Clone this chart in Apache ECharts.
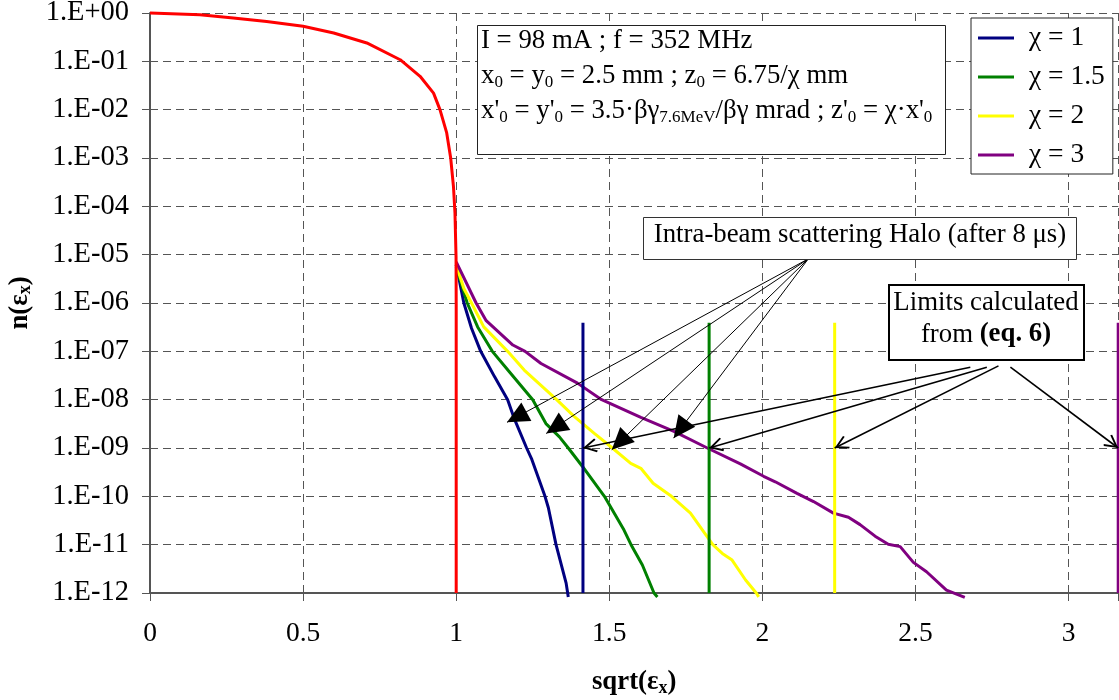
<!DOCTYPE html>
<html>
<head>
<meta charset="utf-8">
<script src="https://cdn.jsdelivr.net/npm/echarts@6/dist/echarts.min.js"></script>
<style>
  html, body { margin: 0; padding: 0; background: #fff; }
  #chart { width: 1119px; height: 700px; }
</style>
</head>
<body>
<div id="chart"></div>
<script>
// ---- tick labels -------------------------------------------------------
const xTickLabels = ['0', '0.5', '1', '1.5', '2', '2.5', '3'];
const yTickLabels = ['1.E+00', '1.E-01', '1.E-02', '1.E-03', '1.E-04', '1.E-05', '1.E-06',
                     '1.E-07', '1.E-08', '1.E-09', '1.E-10', '1.E-11', '1.E-12'];

// ---- series names ------------------------------------------------------
const chiNames = ['χ = 1', 'χ = 1.5', 'χ = 2', 'χ = 3'];

// ---- initial distribution n(eps_x) vs sqrt(eps_x) ----------------------
const initialCore = [
  [0, 1], [0.163, 0.92], [0.272, 0.79], [0.381, 0.67], [0.5, 0.53], [0.6, 0.386],
  [0.708, 0.24], [0.817, 0.108], [0.882, 0.049], [0.926, 0.022], [0.947, 0.01],
  [0.969, 0.0033], [0.982, 0.001], [0.991, 2.6e-4], [0.996, 7.2e-5], [0.9995, 9e-6],
  [1, 1e-6], [1, 1e-12]
];

// ---- intra-beam scattering halo after 8 us ------------------------------
const haloChi1 = [
  [1, 6.2e-6], [1.025, 1e-6], [1.05, 3e-7], [1.08, 1e-7], [1.125, 3e-8], [1.168, 1e-8],
  [1.19, 4e-9], [1.23, 1e-9], [1.247, 5.8e-10], [1.29, 1e-10], [1.301, 5.8e-11],
  [1.326, 1e-11], [1.359, 1.6e-12], [1.366, 8.3e-13]
];
const haloChi15 = [
  [1, 5.6e-6], [1.036, 1e-6], [1.07, 3.2e-7], [1.118, 1e-7], [1.17, 4e-8], [1.25, 1e-8],
  [1.293, 3.2e-9], [1.337, 1.7e-9], [1.366, 1e-9], [1.413, 4.1e-10], [1.484, 1e-10],
  [1.548, 2e-11], [1.571, 1e-11], [1.608, 3.8e-12], [1.646, 1e-12], [1.657, 8.3e-13]
];
const haloChi2 = [
  [1, 6.2e-6], [1.025, 2e-6], [1.05, 1e-6], [1.09, 3.2e-7], [1.168, 1e-7], [1.222, 4.1e-8],
  [1.328, 1e-8], [1.385, 4.5e-9], [1.451, 2e-9], [1.51, 1e-9], [1.57, 4.8e-10],
  [1.603, 3.8e-10], [1.643, 1.86e-10], [1.703, 1e-10], [1.765, 4.5e-11], [1.838, 1e-11],
  [1.869, 6.6e-12], [1.901, 4.8e-12], [1.945, 1.86e-12], [1.98, 1e-12], [1.988, 8.3e-13]
];
const haloChi3 = [
  [1, 7.1e-6], [1.065, 1e-6], [1.098, 4.3e-7], [1.185, 1.35e-7], [1.225, 1e-7],
  [1.277, 5.6e-8], [1.396, 2.2e-8], [1.475, 1e-8], [1.603, 4.3e-9], [1.711, 2.2e-9],
  [1.82, 1e-9], [1.928, 4.7e-10], [2.004, 2.6e-10], [2.042, 2e-10], [2.113, 1.15e-10],
  [2.167, 7.8e-11], [2.232, 4.5e-11], [2.281, 3.7e-11], [2.319, 2.6e-11], [2.368, 1.5e-11],
  [2.411, 1.02e-11], [2.45, 9.1e-12], [2.493, 4.3e-12], [2.536, 2.75e-12],
  [2.601, 1.15e-12], [2.661, 8.1e-13]
];

// ---- limits calculated from eq. 6 (vertical markers) -------------------
const limitX = [1.414, 1.826, 2.236, 3.162];
const limitBottom = 1e-12;
const limitTop = 3.9e-7;

// ---- styling -----------------------------------------------------------
const FONT = '"Liberation Serif", "Times New Roman", Times, serif';
const FS = 26.8;
const chiColors = ['#000080', '#008000', '#FFFF00', '#800080'];
const coreColor = '#FF0000';
const haloSets = [haloChi1, haloChi15, haloChi2, haloChi3];

// arrows: thin ones point at the halo curves, thicker ones at the limit markers
const haloArrowFrom = [2.15, 8.2e-6];
const haloArrowTips = [[1.166, 3.4e-9], [1.294, 2.0e-9], [1.508, 9.2e-10], [1.71, 1.6e-9]];
const limitArrowFrom = [[2.679, 4.7e-8], [2.733, 4.7e-8], [2.771, 5.0e-8], [2.81, 4.7e-8]];
const limitArrowLevel = 1e-9;
const openHead = 'path://M6,0L12,11L10.7,12L6,3.3L1.3,12L0,11Z';

const sub = { fontFamily: FONT, fontSize: 17, lineHeight: 12, verticalAlign: 'bottom', fill: '#000', color: '#000' };
const subBold = Object.assign({}, sub, { fontWeight: 'bold', fontSize: 18 });
const bold = { fontFamily: FONT, fontSize: FS, fontWeight: 'bold', lineHeight: 30, fill: '#000', color: '#000' };

function textEl(x, y, text, align) {
  return {
    type: 'text', x: x, y: y, z: 120,
    style: {
      text: text, fontFamily: FONT, fontSize: FS, fill: '#000',
      align: align, textAlign: align, verticalAlign: 'middle', textVerticalAlign: 'middle',
      lineHeight: 30,
      rich: { s: sub, b: bold }
    }
  };
}

const series = [];
haloSets.forEach((d, i) => {
  series.push({
    type: 'line', name: chiNames[i], data: d, symbol: 'none', showSymbol: false,
    clip: false, z: 2, silent: true,
    lineStyle: { color: chiColors[i], width: 3 }, itemStyle: { color: chiColors[i] }
  });
});
limitX.forEach((x, i) => {
  series.push({
    type: 'line', name: chiNames[i], data: [[x, limitBottom], [x, limitTop]],
    symbol: 'none', showSymbol: false, clip: false, z: 3, silent: true,
    lineStyle: { color: chiColors[i], width: 3 }, itemStyle: { color: chiColors[i] }
  });
});
series.push({
  type: 'line', name: 'Initial distribution', data: initialCore, symbol: 'none',
  showSymbol: false, clip: false, z: 4, silent: true,
  lineStyle: { color: coreColor, width: 3, join: 'round' }, itemStyle: { color: coreColor }
});
series.push({
  type: 'line', name: 'halo-arrows', data: [], z: 6, color: '#000', itemStyle: { color: '#000' },
  markLine: {
    silent: true, animation: false, z: 6,
    symbol: ['none', 'triangle'], symbolSize: 22,
    lineStyle: { color: '#000', width: 1, type: 'solid' }, itemStyle: { color: '#000' },
    label: { show: false }, emphasis: { disabled: true },
    data: haloArrowTips.map(t => [
      { coord: haloArrowFrom, symbol: 'none' },
      { coord: t, symbol: 'triangle', symbolSize: [21, 22], symbolOffset: [0, 11] }
    ])
  }
});
series.push({
  type: 'line', name: 'limit-arrows', data: [], z: 6, color: '#000', itemStyle: { color: '#000' },
  markLine: {
    silent: true, animation: false, z: 6,
    symbol: ['none', openHead], symbolSize: 14,
    lineStyle: { color: '#000', width: 1.6, type: 'solid' }, itemStyle: { color: '#000' },
    label: { show: false }, emphasis: { disabled: true },
    data: limitArrowFrom.map((s, i) => [
      { coord: s, symbol: 'none' },
      { coord: [limitX[i], limitArrowLevel], symbol: openHead, symbolSize: [14, 14], symbolOffset: [0, 7] }
    ])
  }
});

const gridLine = { show: true, lineStyle: { color: '#555', width: 1, type: [8, 5] } };
const axisLine = { show: true, onZero: false, lineStyle: { color: '#555', width: 2 } };

const option = {
  animation: false,
  backgroundColor: '#fff',
  textStyle: { fontFamily: FONT },
  grid: { left: 150, top: 13, width: 968.3, height: 580, outerBoundsMode: 'none', containLabel: false },
  xAxis: {
    type: 'value', min: 0, max: 3.1623, interval: 0.5,
    axisLine: axisLine,
    axisTick: { show: true, length: 8, lineStyle: { color: '#555', width: 1 } },
    splitLine: gridLine,
    axisLabel: {
      margin: 27, fontSize: 27.5, fontFamily: FONT, color: '#000',
      formatter: v => {
        const k = Math.round(v * 2);
        return Math.abs(v * 2 - k) < 1e-6 && xTickLabels[k] !== undefined ? xTickLabels[k] : '';
      }
    },
    name: '{b|sqrt(ε}{s|x}{b|)}', nameLocation: 'middle', nameGap: 74,
    nameTextStyle: { fontFamily: FONT, fontSize: FS, fontWeight: 'bold', color: '#000', lineHeight: 30,
      rich: { b: bold, s: subBold } }
  },
  yAxis: {
    type: 'log', logBase: 10, min: 1e-12, max: 1, interval: 1, splitNumber: 12,
    axisLine: axisLine,
    axisTick: { show: true, length: 8, lineStyle: { color: '#555', width: 1 } },
    minorTick: { show: false }, minorSplitLine: { show: false },
    splitLine: gridLine,
    axisLabel: {
      margin: 21, fontSize: 28.5, fontFamily: FONT, color: '#000',
      formatter: v => {
        const e = Math.round(-Math.log10(v));
        return Math.abs(-Math.log10(v) - e) < 1e-6 && yTickLabels[e] !== undefined ? yTickLabels[e] : '';
      }
    },
    name: '{b|n(ε}{s|x}{b|)}', nameLocation: 'middle', nameGap: 111, nameRotate: 90,
    nameTextStyle: { fontFamily: FONT, fontSize: FS, fontWeight: 'bold', color: '#000', lineHeight: 30,
      rich: { b: bold, s: subBold } }
  },
  legend: {
    data: chiNames, orient: 'vertical', left: 971, top: 18,
    icon: 'rect', itemWidth: 36, itemHeight: 3, itemGap: 11,
    padding: [6, 8, 5, 7],
    backgroundColor: '#fff', borderColor: '#222', borderWidth: 1,
    selectedMode: false, z: 20,
    textStyle: { fontFamily: FONT, fontSize: 27.5, color: '#000', lineHeight: 26, padding: [0, 0, 0, 10] }
  },
  graphic: [
    // beam parameters
    { type: 'rect', z: 110, shape: { x: 477.5, y: 25.5, width: 468, height: 129 },
      style: { fill: '#fff', stroke: '#222', lineWidth: 1 } },
    textEl(481, 41, 'I = 98 mA ; f = 352 MHz', 'left'),
    textEl(481, 76, 'x{s|0} = y{s|0} = 2.5 mm ; z{s|0} = 6.75/χ mm', 'left'),
    textEl(481, 111, "x'{s|0} = y'{s|0} = 3.5·βγ{s|7.6MeV}/βγ mrad ; z'{s|0} = χ·x'{s|0}", 'left'),
    // halo label
    { type: 'rect', z: 110, shape: { x: 643.5, y: 217.5, width: 433, height: 42 },
      style: { fill: '#fff', stroke: '#333', lineWidth: 1 } },
    textEl(860, 234.5, 'Intra-beam scattering Halo (after 8 μs)', 'center'),
    // limits label
    { type: 'rect', z: 110, shape: { x: 889, y: 285, width: 195, height: 75 },
      style: { fill: '#fff', stroke: '#000', lineWidth: 2 } },
    textEl(986, 303, 'Limits calculated', 'center'),
    textEl(986, 334.5, 'from {b|(eq. 6)}', 'center')
  ],
  series: series
};

const chart = echarts.init(document.getElementById('chart'), null, { renderer: 'canvas' });
chart.setOption(option);
</script>
</body>
</html>
